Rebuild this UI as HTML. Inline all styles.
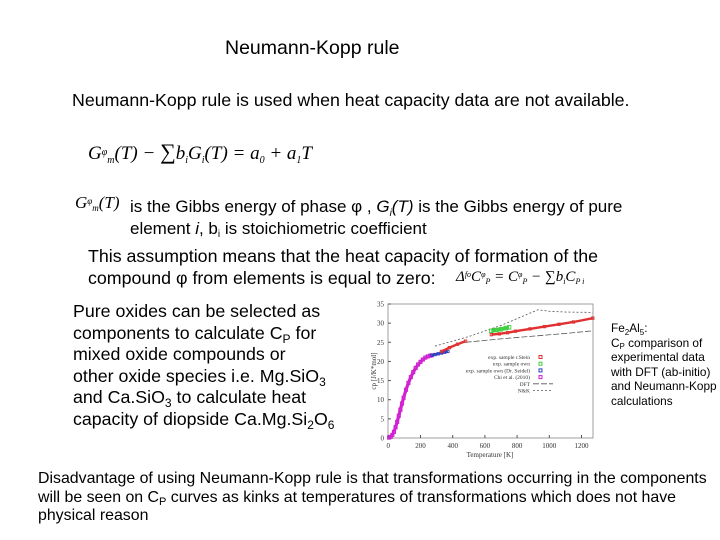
<!DOCTYPE html>
<html><head><meta charset="utf-8"><style>
body{margin:0;background:#fff}
#page{position:relative;width:720px;height:540px;overflow:hidden;font-family:"Liberation Sans",sans-serif;color:#000}
.t{position:absolute;white-space:nowrap}
.m{font-family:"Liberation Serif",serif;font-style:italic}
sub,sup{line-height:0;vertical-align:baseline;position:relative}
sub{top:0.35em}
sup{top:-0.45em}
</style></head><body>
<div id="page">
<div class="t" style="left:225px;top:37px;font-size:19.5px;line-height:22px">Neumann-Kopp rule</div>
<div class="t" style="left:72px;top:89px;font-size:17.8px;line-height:22px">Neumann-Kopp rule is used when heat capacity data are not available.</div>
<div class="t m" style="left:88px;top:140px;font-size:19px;line-height:24px">G<sup style="font-size:10px">φ</sup><sub style="font-size:10px">m</sub>(T) − <span style="font-style:normal;font-size:22px">∑</span>b<sub style="font-size:10px">i</sub>G<sub style="font-size:10px">i</sub>(T) = a<sub style="font-size:10px">0</sub> + a<sub style="font-size:10px">1</sub>T</div>
<div class="t m" style="left:75px;top:193px;font-size:17px;line-height:20px">G<sup style="font-size:9px">φ</sup><sub style="font-size:9px">m</sub>(T)</div>
<div class="t" style="left:130px;top:196px;font-size:17px;line-height:21.5px">is the Gibbs energy of phase φ , <i>G<sub style="font-size:10px">i</sub>(T)</i> is the Gibbs energy of pure<br>element <i>i</i>, b<sub style="font-size:10px">i</sub> is stoichiometric coefficient</div>
<div class="t" style="left:88px;top:245px;font-size:17.8px;line-height:22px">This assumption means that the heat capacity of formation of the<br>compound φ from elements is equal to zero:</div>
<div class="t m" style="left:456px;top:268px;font-size:15px;line-height:18px">Δ<sup style="font-size:8px">fo</sup>C<sup style="font-size:8px">φ</sup><sub style="font-size:8px">P</sub> = C<sup style="font-size:8px">φ</sup><sub style="font-size:8px">P</sub> − <span style="font-style:normal">∑</span>b<sub style="font-size:8px">i</sub>C<sub style="font-size:8px">P i</sub></div>
<div class="t" style="left:73px;top:301px;font-size:17.8px;line-height:21.5px">Pure oxides can be selected as<br>components to calculate C<sub style="font-size:12px">P</sub> for<br>mixed oxide compounds or<br>other oxide species i.e. Mg.SiO<sub style="font-size:12px">3</sub><br>and Ca.SiO<sub style="font-size:12px">3</sub> to calculate heat<br>capacity of diopside Ca.Mg.Si<sub style="font-size:12px">2</sub>O<sub style="font-size:12px">6</sub></div>
<div class="t" style="left:611px;top:321px;font-size:11.8px;line-height:14.6px">Fe<sub style="font-size:8px">2</sub>Al<sub style="font-size:8px">5</sub>:<br>C<sub style="font-size:8px">P</sub> comparison of<br>experimental data<br>with DFT (ab-initio)<br>and Neumann-Kopp<br>calculations</div>
<div class="t" style="left:38px;top:470px;font-size:15.9px;line-height:18.5px">Disadvantage of using Neumann-Kopp rule is that transformations occurring in the components<br>will be seen on C<sub style="font-size:11px">P</sub> curves as kinks at temperatures of transformations which does not have<br>physical reason</div>
<svg id="chart" width="720" height="540" style="position:absolute;left:0;top:0" font-family="Liberation Serif, serif"></svg>
</div>
<script>
const xTicks=[0,200,400,600,800,1000,1200];
const yTicks=[0,5,10,15,20,25,30,35];
const chiT=[5,15,25,35,45,55,65,75,85,95,110,125,140,155,170,185,200,215,230,245,260,270];
const chiCp=[0.1,0.3,0.8,1.6,2.8,4.2,5.8,7.4,9.0,10.5,12.6,14.4,15.9,17.2,18.3,19.2,19.9,20.5,21.0,21.3,21.5,21.6];
const seidelT=[270,290,310,330,350,370];
const seidelCp=[21.6,21.8,22.0,22.2,22.4,22.6];
const sT=[330,380,430,480,640,690,740,790,880,970,1060,1150,1270];
const sCp=[22.6,23.6,24.5,25.3,27.0,27.2,27.5,27.9,28.5,29.1,29.7,30.3,31.3];
const ownT=[640,670,700,730,750];
const ownCp=[28.0,28.2,28.4,28.7,28.9];
const dftT=[480,700,900,1100,1270];
const dftCp=[25.0,25.9,26.6,27.3,28.0];
const nkT=[290,500,700,930,1000,1100,1270];
const nkCp=[24.0,26.5,29.4,33.5,33.1,32.9,32.8];
const X=t=>388.3+t*32.2/200, Y=v=>438-v*(134/35);
const svg=document.getElementById('chart');const NS='http://www.w3.org/2000/svg';
function mk(tag,a,parent){const e=document.createElementNS(NS,tag);for(const k in a)e.setAttribute(k,a[k]);(parent||svg).appendChild(e);return e;}
const frame=mk('rect',{x:388,y:304,width:205,height:134,fill:'none',stroke:'#888','stroke-width':0.8});


xTicks.forEach(t=>{mk('line',{x1:X(t),x2:X(t),y1:438,y2:435,stroke:'#555'});
const l=mk('text',{x:X(t),y:448,'font-size':7,'text-anchor':'middle',fill:'#333'});l.textContent=t;

});
yTicks.forEach(v=>{mk('line',{x1:388,x2:391,y1:Y(v),y2:Y(v),stroke:'#555'});
const l=mk('text',{x:384,y:Y(v)+2.5,'font-size':7,'text-anchor':'end',fill:'#333'});l.textContent=v;

});
const xt=mk('text',{x:490,y:457,'font-size':7,'text-anchor':'middle',fill:'#333'});xt.textContent='Temperature [K]';


const yt=mk('text',{x:376,y:371,'font-size':7,'text-anchor':'middle',fill:'#333',transform:'rotate(-90 376 371)'});yt.textContent='cp [J/K*mol]';


function line(T,C,dash,name){const p=mk('polyline',{points:T.map((t,i)=>X(t)+','+Y(C[i])).join(' '),fill:'none',stroke:'#555','stroke-width':0.8,'stroke-dasharray':dash});

}
line(dftT,dftCp,'6,2','dft-line');
line(nkT,nkCp,'2,2','nk-line');
function pts(T,C,col,name,r){
const g=mk('g',{});


for(let i=0;i<T.length;i++){mk('rect',{x:X(T[i])-r,y:Y(C[i])-r,width:2*r,height:2*r,fill:'none',stroke:col,'stroke-width':0.9},g);
if(i<T.length-1&&T[i+1]-T[i]<=120)mk('line',{x1:X(T[i]),y1:Y(C[i]),x2:X(T[i+1]),y2:Y(C[i+1]),stroke:col,'stroke-width':2*r},g);}}
pts(chiT,chiCp,'#d020d0','chi-series',1.6);
pts(seidelT,seidelCp,'#3040c0','seidel-series',1.2);
pts(sT,sCp,'#e03030','stein-series',1.2);
pts(ownT,ownCp,'#40d040','own-series',1.8);
const leg=[['exp. sample r.Stein','#e03030'],['exp. sample own','#40d040'],['exp. sample own (Dr. Seidel)','#3040c0'],['Chi et al. (2010)','#d020d0'],['DFT','#555'],['N&K','#555']];
leg.forEach((e,i)=>{const y=357+i*6.7;const t=mk('text',{x:530,y:y+2,'font-size':5.5,'text-anchor':'end',fill:'#333'});t.textContent=e[0];


if(i<4)mk('rect',{x:539,y:y-1.5,width:3,height:3,fill:'none',stroke:e[1]});
else mk('line',{x1:533,x2:553,y1:y,y2:y,stroke:'#555','stroke-width':0.8,'stroke-dasharray':i==4?'6,2':'2,2'});});
</script>
</body></html>
